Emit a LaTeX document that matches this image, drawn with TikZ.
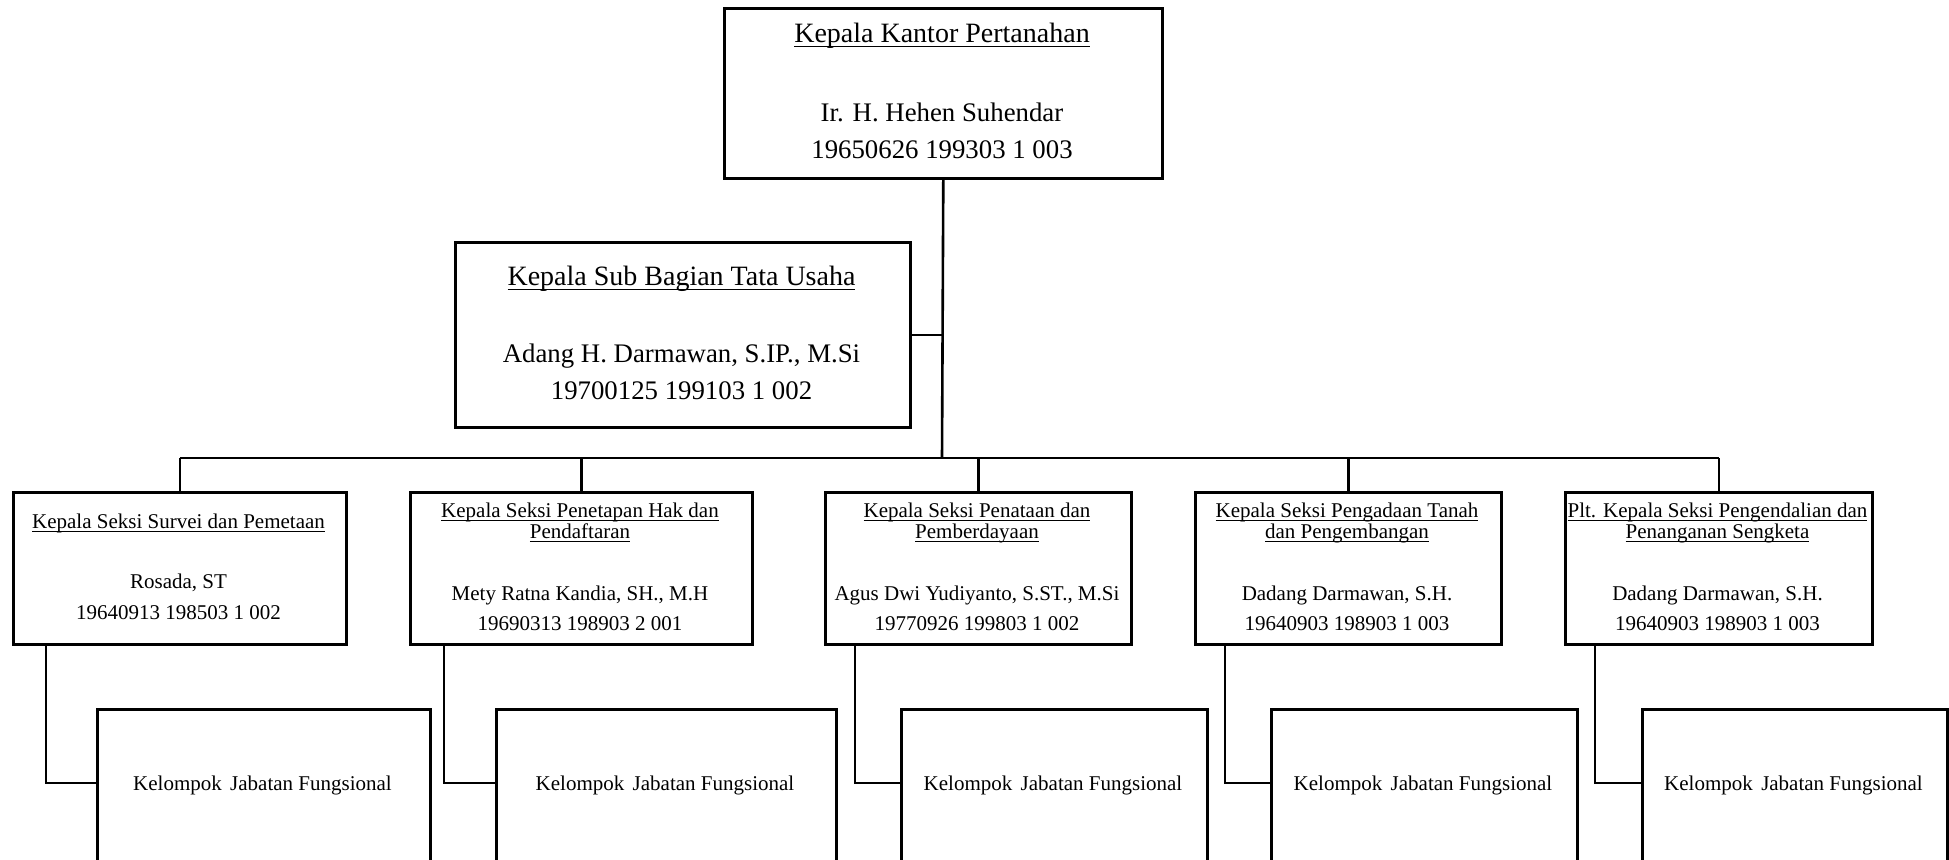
\documentclass[tikz,border=0pt]{standalone}
\usepackage{fontspec}
\setmainfont{Liberation Serif}
\newcommand\uln[1]{\setbox0\hbox{#1}\rlap{\rule[-0.18em]{\wd0}{0.055em}}\box0}
\begin{document}
\begin{tikzpicture}[x=0.5pt,y=-0.5pt,
  box/.style={draw, line width=1.3pt, rectangle, inner sep=0pt, anchor=north west},
  big/.style={font=\fontsize{14}{16}\selectfont, anchor=base, inner sep=0pt},
  bigname/.style={font=\fontsize{13.4}{16}\selectfont, anchor=base, inner sep=0pt},
  small/.style={font=\fontsize{10.5}{12}\selectfont, anchor=base, inner sep=0pt},
  link/.style={line width=1.3pt}]
\useasboundingbox (0,0) rectangle (1949,859);
\clip (0,0) rectangle (1949,859);
% top
\node[box, minimum width=219pt, minimum height=85pt] (top) at (723,7) {};
\node[big] (topT) at (942,42) {\uln{Kepala Kantor Pertanahan}};
\node[bigname] (topN) at (942,121) {Ir. H. Hehen Suhendar};
\node[bigname] (topI) at (942,158) {19650626 199303 1 003};
% sub
\node[box, minimum width=227.5pt, minimum height=92.5pt] (sub) at (454,241) {};
\node[big] (subT) at (681.5,285) {\uln{Kepala Sub Bagian Tata Usaha}};
\node[bigname] (subN) at (681.5,362) {Adang H. Darmawan, S.IP., M.Si};
\node[bigname] (subI) at (681.5,399) {19700125 199103 1 002};
% rows
\node[box, minimum width=166.5pt, minimum height=76pt] (r1) at (12,491) {};
\node[box, minimum width=171pt, minimum height=76pt] (r2) at (409,491) {};
\node[box, minimum width=153pt, minimum height=76pt] (r3) at (824,491) {};
\node[box, minimum width=153pt, minimum height=76pt] (r4) at (1194,491) {};
\node[box, minimum width=153.5pt, minimum height=76pt] (r5) at (1564,491) {};
% row 1 texts
\node[small] (r1T) at (178.5,528) {\uln{Kepala Seksi Survei dan Pemetaan}};
\node[small] (r1N) at (178.5,588) {Rosada, ST};
\node[small] (r1I) at (178.5,619) {19640913 198503 1 002};
% row 2
\node[small] (r2T) at (580,517) {\uln{Kepala Seksi Penetapan Hak dan}};
\node[small] (r2U) at (580,538) {\uln{Pendaftaran}};
\node[small] (r2N) at (580,600) {Mety Ratna Kandia, SH., M.H};
\node[small] (r2I) at (580,630) {19690313 198903 2 001};
% row 3
\node[small] (r3T) at (977,517) {\uln{Kepala Seksi Penataan dan}};
\node[small] (r3U) at (977,538) {\uln{Pemberdayaan}};
\node[small] (r3N) at (977,600) {Agus Dwi Yudiyanto, S.ST., M.Si};
\node[small] (r3I) at (977,630) {19770926 199803 1 002};
% row 4
\node[small] (r4T) at (1347,517) {\uln{Kepala Seksi Pengadaan Tanah}};
\node[small] (r4U) at (1347,538) {\uln{dan Pengembangan}};
\node[small] (r4N) at (1347,600) {Dadang Darmawan, S.H.};
\node[small] (r4I) at (1347,630) {19640903 198903 1 003};
% row 5
\node[small] (r5T) at (1717.5,517) {\uln{Plt. Kepala Seksi Pengendalian dan}};
\node[small] (r5U) at (1717.5,538) {\uln{Penanganan Sengketa}};
\node[small] (r5N) at (1717.5,600) {Dadang Darmawan, S.H.};
\node[small] (r5I) at (1717.5,630) {19640903 198903 1 003};
% bottom boxes
\node[box, minimum width=166.5pt, minimum height=96pt] (b1) at (96,708) {};
\node[box, minimum width=170pt, minimum height=96pt] (b2) at (495,708) {};
\node[box, minimum width=153pt, minimum height=96pt] (b3) at (900,708) {};
\node[box, minimum width=153pt, minimum height=96pt] (b4) at (1270,708) {};
\node[box, minimum width=152.5pt, minimum height=96pt] (b5) at (1641,708) {};
\node[small] (b1T) at (262.5,790) {Kelompok\hspace{0.4em}Jabatan Fungsional};
\node[small] (b2T) at (665,790) {Kelompok\hspace{0.4em}Jabatan Fungsional};
\node[small] (b3T) at (1053,790) {Kelompok\hspace{0.4em}Jabatan Fungsional};
\node[small] (b4T) at (1423,790) {Kelompok\hspace{0.4em}Jabatan Fungsional};
\node[small] (b5T) at (1793.5,790) {Kelompok\hspace{0.4em}Jabatan Fungsional};
% connectors
\coordinate (busC) at (942,458);
\draw[link] (top.south) -- (busC);
\draw[link] (sub.east) -- (sub.east -| top.south);
\draw[link] (r1.north |- busC) -- (r5.north |- busC);
\foreach \i in {1,...,5} {\draw[link] (r\i.north) -- (r\i.north |- busC);}
\coordinate (s1) at (46,643);   \coordinate (e1) at (96,783);
\coordinate (s2) at (444,643);  \coordinate (e2) at (495,783);
\coordinate (s3) at (855,643);  \coordinate (e3) at (900,783);
\coordinate (s4) at (1225,643); \coordinate (e4) at (1270,783);
\coordinate (s5) at (1595,643); \coordinate (e5) at (1641,783);
\foreach \i in {1,...,5} {\draw[link] (s\i) |- (e\i);}
\end{tikzpicture}
\end{document}
